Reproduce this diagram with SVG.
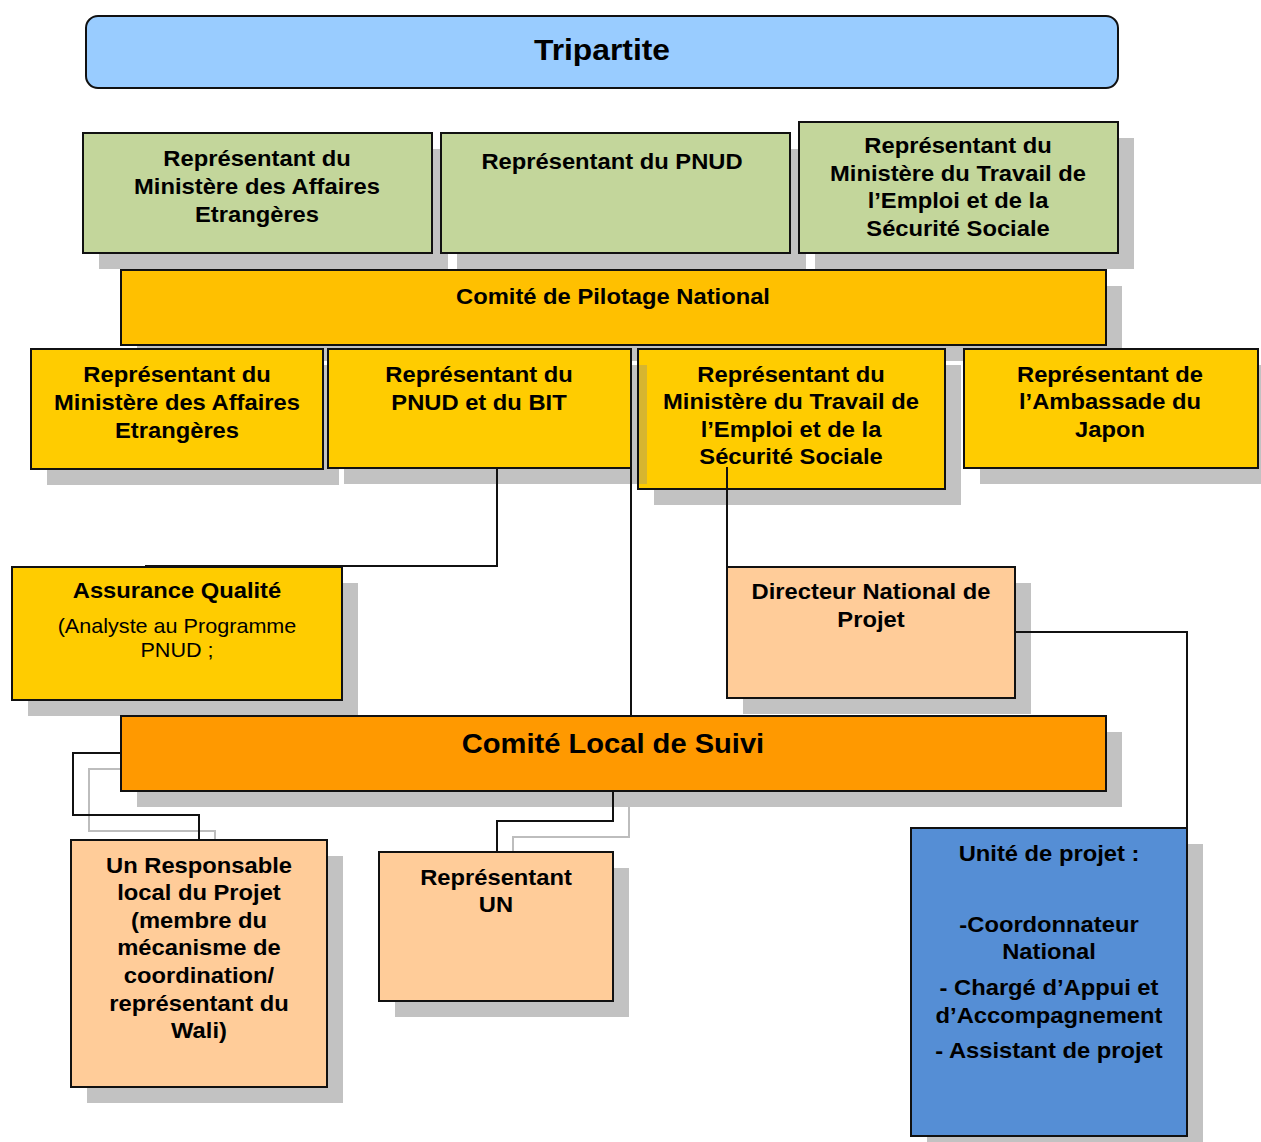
<svg xmlns="http://www.w3.org/2000/svg" width="1261" height="1142" viewBox="0 0 1261 1142">
<style>
.sh{fill:#C2C2C2}
.bx{stroke:#111;stroke-width:2}
.g{fill:#C3D69B}
.y{fill:#FFCC00}
.o{fill:#FFC000}
.p{fill:#FFCC99}
.t{font-family:"Liberation Sans",Arial,sans-serif;font-weight:bold;font-size:22px;text-anchor:middle;fill:#000}
.r{font-weight:normal;font-size:20px}
.c{fill:none;stroke:#111;stroke-width:2}
.cs{fill:none;stroke:#BDBDBD;stroke-width:2}
</style>
<rect width="1261" height="1142" fill="#fff"/>

<!-- shadows -->
<g id="shadows">
<rect class="sh" x="99" y="149" width="349" height="120"/>
<rect class="sh" x="457" y="149" width="349" height="120"/>
<rect class="sh" x="815" y="138" width="319" height="131"/>
<rect class="sh" x="137" y="286" width="985" height="75"/>
<rect class="sh" x="47" y="365" width="292" height="120"/>
<rect class="sh" x="344" y="365" width="303" height="119"/>
<rect class="sh" x="654" y="365" width="307" height="140"/>
<rect class="sh" x="980" y="365" width="281" height="119"/>
<rect class="sh" x="28" y="583" width="330" height="133"/>
<rect class="sh" x="743" y="583" width="288" height="131"/>
<rect class="sh" x="137" y="732" width="985" height="75"/>
<rect class="sh" x="87" y="856" width="256" height="247"/>
<rect class="sh" x="395" y="868" width="234" height="149"/>
<rect class="sh" x="927" y="844" width="276" height="298"/>
</g>

<g id="connectors">
<polyline class="cs" points="137,769 89,769 89,831 215,831 215,857"/>
<polyline class="cs" points="629,807 629,837 513,837 513,868"/>
<polyline class="c" points="497,469 497,566 145,566"/>
<line class="c" x1="631" y1="469" x2="631" y2="716"/>
<line class="c" x1="727" y1="467" x2="727" y2="567"/>
<polyline class="c" points="1015,632 1187,632 1187,828"/>
<polyline class="c" points="121,753 73,753 73,815 199,815 199,840"/>
<polyline class="c" points="613,791 613,821 497,821 497,852"/>
</g>

<g id="tripartite">
<rect class="bx" x="86" y="16" width="1032" height="72" rx="12" fill="#99CCFF"/>
<text class="t" style="font-size:30px" transform="translate(602 0) scale(1.06 1)"><tspan x="0" y="60">Tripartite</tspan></text>
</g>

<g id="vert-mae">
<rect class="bx g" x="83" y="133" width="349" height="120"/>
<text class="t" transform="translate(257 0) scale(1.08 1)"><tspan x="0" y="166">Représentant du</tspan><tspan x="0" y="194">Ministère des Affaires</tspan><tspan x="0" y="222">Etrangères</tspan></text>
</g>
<g id="vert-pnud">
<rect class="bx g" x="441" y="133" width="349" height="120"/>
<text class="t" transform="translate(612 0) scale(1.08 1)"><tspan x="0" y="169">Représentant du PNUD</tspan></text>
</g>
<g id="vert-travail">
<rect class="bx g" x="799" y="122" width="319" height="131"/>
<text class="t" transform="translate(958 0) scale(1.08 1)"><tspan x="0" y="153">Représentant du</tspan><tspan x="0" y="181">Ministère du Travail de</tspan><tspan x="0" y="208">l’Emploi et de la</tspan><tspan x="0" y="236">Sécurité Sociale</tspan></text>
</g>

<g id="pilotage">
<rect class="bx o" x="121" y="270" width="985" height="75"/>
<text class="t" transform="translate(613 0) scale(1.08 1)"><tspan x="0" y="304">Comité de Pilotage National</tspan></text>
</g>

<g id="cp-mae">
<rect class="bx y" x="31" y="349" width="292" height="120"/>
<text class="t" transform="translate(177 0) scale(1.08 1)"><tspan x="0" y="382">Représentant du</tspan><tspan x="0" y="410">Ministère des Affaires</tspan><tspan x="0" y="438">Etrangères</tspan></text>
</g>
<g id="cp-pnud-bit">
<rect class="bx y" x="328" y="349" width="303" height="119"/>
<text class="t" transform="translate(479 0) scale(1.08 1)"><tspan x="0" y="382">Représentant du</tspan><tspan x="0" y="410">PNUD et du BIT</tspan></text>
</g>
<g id="cp-travail">
<rect class="bx y" x="638" y="349" width="307" height="140"/>
<rect x="639" y="365" width="8" height="119" fill="#8a8a8a" opacity="0.35"/>
<text class="t" transform="translate(791 0) scale(1.08 1)"><tspan x="0" y="382">Représentant du</tspan><tspan x="0" y="409">Ministère du Travail de</tspan><tspan x="0" y="437">l’Emploi et de la</tspan><tspan x="0" y="464">Sécurité Sociale</tspan></text>
<line class="c" x1="727" y1="467" x2="727" y2="490"/>
</g>
<g id="cp-japon">
<rect class="bx y" x="964" y="349" width="294" height="119"/>
<text class="t" transform="translate(1110 0) scale(1.08 1)"><tspan x="0" y="382">Représentant de</tspan><tspan x="0" y="409">l’Ambassade du</tspan><tspan x="0" y="437">Japon</tspan></text>
</g>

<g id="assurance">
<rect class="bx y" x="12" y="567" width="330" height="133"/>
<text class="t" transform="translate(177 0) scale(1.08 1)"><tspan x="0" y="598">Assurance Qualité</tspan><tspan class="r" x="0" y="633">(Analyste au Programme</tspan><tspan class="r" x="0" y="657">PNUD ;</tspan></text>
</g>

<g id="directeur">
<rect class="bx p" x="727" y="567" width="288" height="131"/>
<text class="t" transform="translate(871 0) scale(1.08 1)"><tspan x="0" y="599">Directeur National de</tspan><tspan x="0" y="627">Projet</tspan></text>
</g>

<g id="comite-local">
<rect class="bx" x="121" y="716" width="985" height="75" fill="#FF9900"/>
<text class="t" style="font-size:28px" transform="translate(613 0) scale(1.04 1)"><tspan x="0" y="753">Comité Local de Suivi</tspan></text>
</g>

<g id="responsable">
<rect class="bx p" x="71" y="840" width="256" height="247"/>
<text class="t" transform="translate(199 0) scale(1.08 1)"><tspan x="0" y="873">Un Responsable</tspan><tspan x="0" y="900">local du Projet</tspan><tspan x="0" y="928">(membre du</tspan><tspan x="0" y="955">mécanisme de</tspan><tspan x="0" y="983">coordination/</tspan><tspan x="0" y="1011">représentant du</tspan><tspan x="0" y="1038">Wali)</tspan></text>
</g>

<g id="representant-un">
<rect class="bx p" x="379" y="852" width="234" height="149"/>
<text class="t" transform="translate(496 0) scale(1.08 1)"><tspan x="0" y="885">Représentant</tspan><tspan x="0" y="912">UN</tspan></text>
</g>

<g id="unite">
<rect class="bx" x="911" y="828" width="276" height="308" fill="#558ED5"/>
<text class="t" transform="translate(1049 0) scale(1.08 1)"><tspan x="0" y="861">Unité de projet :</tspan><tspan x="0" y="932">-Coordonnateur</tspan><tspan x="0" y="959">National</tspan><tspan x="0" y="995">- Chargé d’Appui et</tspan><tspan x="0" y="1023">d’Accompagnement</tspan><tspan x="0" y="1058">- Assistant de projet</tspan></text>
</g>
</svg>
